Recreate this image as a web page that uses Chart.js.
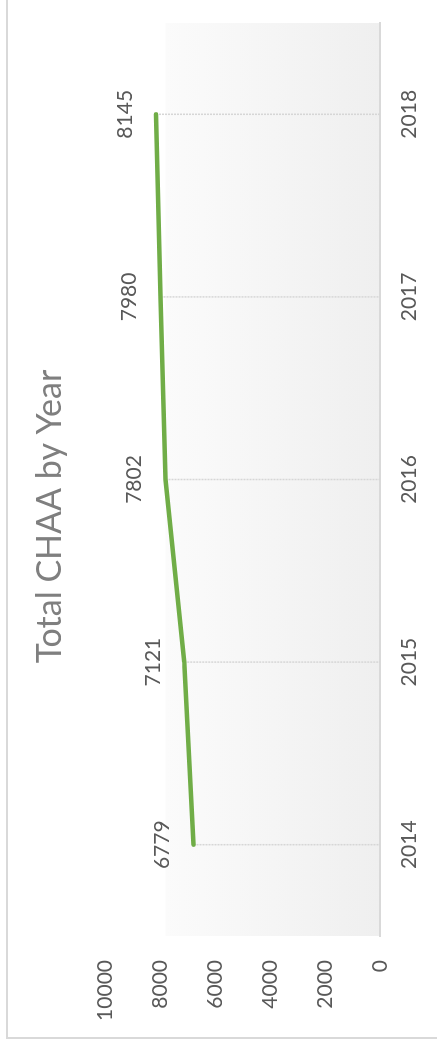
<!DOCTYPE html>
<html>
<head>
<meta charset="utf-8">
<script src="https://cdn.jsdelivr.net/npm/chart.js@4/dist/chart.umd.min.js"></script>
<style>
  html, body { margin: 0; padding: 0; background: #fff; overflow: hidden; }
  /* chart is laid out landscape, then turned to read bottom-to-top */
  #wrap {
    position: absolute; left: 0; top: 0;
    width: 1045px; height: 437px;
    transform-origin: 0 0;
    transform: translateY(1045px) rotate(-90deg);
  }
  #chart { width: 1045px; height: 437px; }
</style>
</head>
<body>
<div id="wrap"><canvas id="chart" width="1045" height="437"></canvas></div>
<script>
// Data
const years = ['2014', '2015', '2016', '2017', '2018'];
const totals = [6779, 7121, 7802, 7980, 8145];
const valueTicks = [0, 2000, 4000, 6000, 8000, 10000];
const chartTitle = 'Total CHAA by Year';

const FONT = 'Lato, "Open Sans", sans-serif';
const LABEL_COLOR = '#595959';

// outer frame of the chart box
const framePlugin = {
  id: 'frame',
  beforeDraw(chart) {
    const ctx = chart.ctx;
    ctx.save();
    ctx.strokeStyle = '#d9d9d9';
    ctx.lineWidth = 2;
    ctx.strokeRect(7, 7, chart.width, chart.height);
    ctx.restore();
  }
};

// gradient plot background (starts a bit below the top of the value range)
const plotBgPlugin = {
  id: 'plotBg',
  beforeDraw(chart, args, opts) {
    const { ctx, chartArea } = chart;
    const top = chart.scales.y.getPixelForValue(opts.fromValue);
    const grad = ctx.createLinearGradient(0, top, 0, chartArea.bottom);
    grad.addColorStop(0, '#fbfbfb');
    grad.addColorStop(1, '#efefef');
    ctx.save();
    ctx.fillStyle = grad;
    ctx.fillRect(chartArea.left, top, chartArea.right - chartArea.left, chartArea.bottom - top);
    ctx.restore();
  }
};

// title, centred over the chart box rather than the plot
const titlePlugin = {
  id: 'boxTitle',
  afterDraw(chart) {
    const ctx = chart.ctx;
    ctx.save();
    ctx.fillStyle = '#7f7f7f';
    ctx.font = '34px ' + FONT;
    ctx.textAlign = 'center';
    ctx.textBaseline = 'middle';
    ctx.fillText(chartTitle, chart.width / 2 + 6, 50);
    ctx.restore();
  }
};

// drop lines from each point down to the category axis
const dropLinesPlugin = {
  id: 'dropLines',
  beforeDatasetsDraw(chart) {
    const ctx = chart.ctx;
    const bottom = chart.chartArea.bottom;
    ctx.save();
    ctx.strokeStyle = '#d6d6d6';
    ctx.lineWidth = 1.5;
    ctx.setLineDash([2, 1]);
    chart.getDatasetMeta(0).data.forEach(pt => {
      ctx.beginPath();
      ctx.moveTo(pt.x, pt.y);
      ctx.lineTo(pt.x, bottom);
      ctx.stroke();
    });
    ctx.restore();
  }
};

// value labels above the points
const valueLabelsPlugin = {
  id: 'valueLabels',
  afterDatasetsDraw(chart) {
    const ctx = chart.ctx;
    const ds = chart.data.datasets[0];
    ctx.save();
    ctx.fillStyle = LABEL_COLOR;
    ctx.font = '21px ' + FONT;
    ctx.textAlign = 'center';
    ctx.textBaseline = 'middle';
    chart.getDatasetMeta(0).data.forEach((pt, i) => {
      ctx.fillText(String(ds.data[i]), pt.x, pt.y - 31);
    });
    ctx.restore();
  }
};

new Chart(document.getElementById('chart'), {
  type: 'line',
  data: {
    labels: years,
    datasets: [{
      label: 'Total CHAA',
      data: totals,
      borderColor: '#70ad47',
      borderWidth: 4.5,
      borderCapStyle: 'round',
      borderJoinStyle: 'round',
      pointRadius: 0,
      tension: 0,
      fill: false
    }]
  },
  options: {
    responsive: false,
    animation: false,
    layout: { padding: { left: 0, right: 23, top: 105, bottom: 0 } },
    plugins: {
      legend: { display: false },
      tooltip: { enabled: false },
      title: { display: false },
      plotBg: { fromValue: 7800 }
    },
    scales: {
      x: {
        offset: true,
        grid: { display: false, drawTicks: false },
        border: { display: true, color: '#d9d9d9', width: 2 },
        ticks: { color: LABEL_COLOR, font: { family: FONT, size: 21 }, padding: 17 },
        afterFit(scale) { scale.height = 57; }
      },
      y: {
        min: 0,
        max: 10000,
        grid: { display: false, drawTicks: false },
        border: { display: false },
        ticks: {
          color: LABEL_COLOR,
          font: { family: FONT, size: 21 },
          padding: 24,
          callback: v => String(v)
        },
        afterBuildTicks(scale) { scale.ticks = valueTicks.map(v => ({ value: v })); },
        afterFit(scale) { scale.width = 109; }
      }
    }
  },
  plugins: [framePlugin, plotBgPlugin, dropLinesPlugin, valueLabelsPlugin, titlePlugin]
});
</script>
</body>
</html>
